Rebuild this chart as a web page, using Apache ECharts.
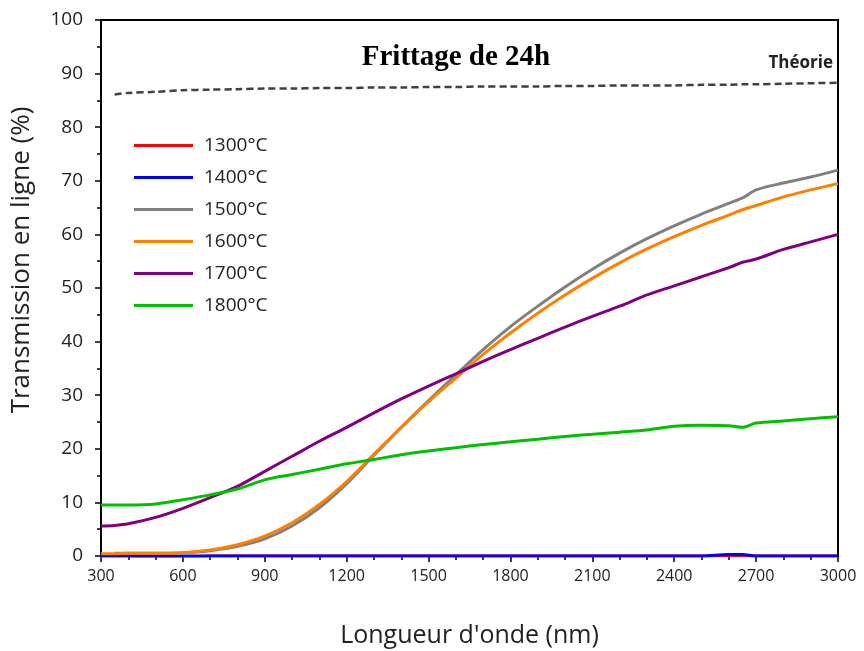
<!DOCTYPE html>
<html>
<head>
<meta charset="utf-8">
<script src="https://cdn.jsdelivr.net/npm/echarts@6/dist/echarts.min.js"></script>
<style>
  html, body { margin: 0; padding: 0; background: #fff; }
  #chart { width: 864px; height: 651px; }
</style>
</head>
<body>
<div id="chart"></div>
<script>
// longueur d'onde (nm)
var wavelength = [300, 350, 400, 500, 600, 700, 800, 900, 1000, 1100, 1200, 1300, 1400, 1500, 1600, 1700,
  1800, 1900, 2000, 2100, 2200, 2300, 2400, 2500, 2600, 2650, 2700, 2800, 2900, 3000];

var t1300 = [0, 0, 0, -0.25, -0.25, 0, 0, 0, 0, 0, 0, 0, 0, 0, 0, 0,
  0, 0, 0, 0, 0, 0, 0, 0, 0.1, 0.1, 0, 0, 0, 0];
var t1400 = [0, 0, 0, 0, 0, 0, 0, 0, 0, 0, 0, 0, 0, 0, 0, 0,
  0, 0, 0, 0, 0, 0, 0, 0, 0.3, 0.3, 0, 0, 0, 0];
var t1500 = [null, 0.5, 0.5, 0.5, 0.6, 1.0, 1.8, 3.2, 5.6, 9.0, 13.5, 18.8, 24.0, 29.0, 33.8, 38.5,
  42.8, 46.6, 50.2, 53.5, 56.5, 59.2, 61.6, 63.8, 65.8, 66.8, 68.3, 69.6, 70.7, 72.0];
var t1600 = [0.4, 0.4, 0.5, 0.5, 0.6, 1.1, 2.1, 3.7, 6.2, 9.6, 13.9, 19.0, 24.0, 28.8, 33.2, 37.6,
  41.6, 45.3, 48.7, 51.8, 54.7, 57.3, 59.6, 61.7, 63.6, 64.6, 65.4, 67.0, 68.3, 69.5];
var t1700 = [5.6, 5.7, 6.0, 7.2, 8.9, 10.9, 13.0, 15.8, 18.6, 21.4, 24.0, 26.7, 29.3, 31.7, 34.0, 36.3,
  38.5, 40.6, 42.7, 44.7, 46.6, 48.7, 50.4, 52.1, 53.8, 54.8, 55.4, 57.2, 58.6, 60.0];
var t1800 = [9.5, 9.5, 9.5, 9.7, 10.5, 11.4, 12.5, 14.2, 15.2, 16.2, 17.2, 18.0, 18.9, 19.6, 20.2, 20.8,
  21.3, 21.8, 22.3, 22.7, 23.1, 23.5, 24.2, 24.4, 24.3, 24.0, 24.8, 25.2, 25.6, 26.0];
var theorie = [null, 86.1, 86.4, 86.6, 86.9, 87.0, 87.1, 87.2, 87.2, 87.3, 87.3, 87.4, 87.4, 87.5, 87.5, 87.6,
  87.6, 87.6, 87.7, 87.7, 87.8, 87.8, 87.8, 87.9, 87.9, 88.0, 88.0, 88.1, 88.2, 88.3];

var names = ['1300°C', '1400°C', '1500°C', '1600°C', '1700°C', '1800°C'];
var colors = ['#ff0000', '#0000ff', '#808080', '#ff8000', '#800080', '#00c000'];
var values = [t1300, t1400, t1500, t1600, t1700, t1800];

function pairs(v) {
  return wavelength.map(function (x, i) { return [x, v[i]]; });
}

var chart = echarts.init(document.getElementById('chart'));
var series = names.map(function (n, i) {
  return {
    name: n,
    type: 'line',
    data: pairs(values[i]),
    smooth: 0.3,
    symbol: 'none',
    lineStyle: { color: colors[i], width: 3 },
    itemStyle: { color: colors[i] },
    z: (i === 0 ? 1 : 2)
  };
});
series.push({
  name: 'Théorie',
  type: 'line',
  data: pairs(theorie),
  smooth: 0.3,
  symbol: 'none',
  lineStyle: { color: '#404040', width: 2.5, type: [7, 4] },
  itemStyle: { color: '#404040' }
});

var option = {
  animation: false,
  backgroundColor: '#fff',
  title: {
    text: 'Frittage de 24h',
    left: 451,
    textAlign: 'center',
    top: 38,
    textStyle: { fontFamily: 'Liberation Serif', fontWeight: 'bold', fontSize: 29, color: '#000' }
  },
  legend: {
    data: names,
    orient: 'vertical',
    left: 129,
    top: 131,
    icon: 'rect',
    itemWidth: 59,
    itemHeight: 3,
    itemGap: 13,
    textStyle: { fontFamily: 'Open Sans', fontSize: 19, lineHeight: 14, color: '#222', padding: [0, 0, 0, 6] }
  },
  graphic: [{
    type: 'text',
    right: 31,
    top: 55,
    style: { text: 'Théorie', font: 'bold 17px "Open Sans"', fill: '#222' }
  }],
  grid: {
    left: 101, right: 26, top: 20, bottom: 95,
    outerBoundsMode: 'none',
    show: true, borderColor: '#000', borderWidth: 2
  },
  xAxis: {
    type: 'value',
    min: 300, max: 3000, interval: 300,
    name: "Longueur d'onde (nm)",
    nameLocation: 'middle',
    nameGap: 67,
    nameTextStyle: { fontFamily: 'Open Sans', fontSize: 25, color: '#222' },
    axisLine: { lineStyle: { color: '#000', width: 2 } },
    axisTick: { inside: false, length: 6, lineStyle: { color: '#000', width: 1.5 } },
    minorTick: { show: true, splitNumber: 3, length: 4, lineStyle: { color: '#000', width: 1.5 } },
    axisLabel: { fontFamily: 'Open Sans', fontSize: 16, color: '#222', margin: 12,
      formatter: function (v) { return String(v); } },
    splitLine: { show: false }
  },
  yAxis: {
    type: 'value',
    min: 0, max: 100, interval: 10,
    name: 'Transmission en ligne (%)',
    nameLocation: 'middle',
    nameGap: 66,
    nameTextStyle: { fontFamily: 'Open Sans', fontSize: 26, color: '#222', padding: [0, 0, 0, 56] },
    axisLine: { lineStyle: { color: '#000', width: 2 } },
    axisTick: { inside: false, length: 6, lineStyle: { color: '#000', width: 1.5 } },
    minorTick: { show: true, splitNumber: 2, length: 4, lineStyle: { color: '#000', width: 1.5 } },
    axisLabel: { fontFamily: 'Open Sans', fontSize: 19, color: '#222', margin: 18 },
    splitLine: { show: false }
  },
  series: series
};
chart.setOption(option);
window.addEventListener('resize', chart.resize);
</script>
</body>
</html>
